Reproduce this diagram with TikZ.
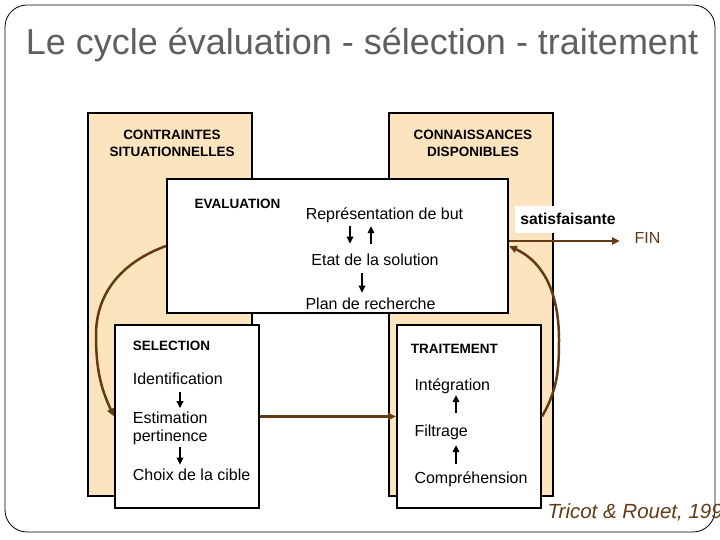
\documentclass[tikz,border=0pt]{standalone}
\usepackage{fontspec}
\setmainfont{Liberation Sans}
\usepackage{tikz}
\usetikzlibrary{arrows.meta,calc}

\definecolor{beige}{RGB}{251,228,190}
\definecolor{cyclebrown}{RGB}{99,58,22}
\definecolor{titlegray}{RGB}{95,95,95}

\begin{document}
\begin{tikzpicture}[x=1pt,y=1pt,
    panel/.style={draw, line width=2pt, fill=beige, inner sep=0pt,
        minimum width=164pt, minimum height=383pt},
    stage/.style={draw, line width=2pt, fill=white, inner sep=0pt},
    boxhead/.style={inner sep=0pt, font=\fontsize{13.5}{17.4}\selectfont\bfseries},
    boxitem/.style={inner sep=0pt, font=\fontsize{16}{18.4}\selectfont},
    arr/.style={line width=2pt, -{Triangle[length=7pt,width=6.5pt]}},
    flow/.style={cyclebrown, line width=2.5pt, -{Triangle[length=8pt,width=7pt]}}]
    %----------------------------------------
    % PAGE AND SLIDE FRAME
    %----------------------------------------
    \useasboundingbox (0,0) rectangle (720,540);
    \clip (0,0) rectangle (720,540);
    \draw[line width=0.8pt, rounded corners=22pt] (5,8) rectangle (715,535);

    \node[anchor=base, inner sep=0pt, text=titlegray, font=\fontsize{36}{40}\selectfont]
        (title) at (362,485) {Le cycle évaluation - sélection - traitement};

    %----------------------------------------
    % BACKGROUND COLUMNS
    %----------------------------------------
    \node[panel] (contr) at (170,235.5) {};
    \node[panel] (conn) at (471,235.5) {};
    \node[boxhead, align=center] (contrlbl) at (172,396.8) {CONTRAINTES\\SITUATIONNELLES};
    \node[boxhead, align=center] (connlbl) at (473,396.8) {CONNAISSANCES\\DISPONIBLES};

    %----------------------------------------
    % EVALUATION
    %----------------------------------------
    \node[stage, minimum width=341pt, minimum height=134pt] (eval) at (337.5,294) {};
    \node[boxhead, anchor=base] (evalhd) at (237.5,331) {EVALUATION};
    \node[boxitem, anchor=base] (rep) at (384.5,320.7) {Représentation de but};
    \node[boxitem, anchor=base] (etat) at (375,274) {Etat de la solution};
    \node[boxitem, anchor=base] (plan) at (370.5,230) {Plan de recherche};

    % way out of the cycle
    \node[fill=white, inner xsep=5pt, inner ysep=7.5pt, anchor=base,
        font=\fontsize{15.7}{18}\selectfont\bfseries] (satis) at (568,315) {satisfaisante};
    \node[inner sep=0pt, anchor=base, text=cyclebrown, font=\fontsize{16}{18}\selectfont]
        (fin) at (647.5,296.7) {FIN};

    %----------------------------------------
    % SELECTION and TRAITEMENT
    %----------------------------------------
    \node[stage, minimum width=144pt, minimum height=183pt] (sel) at (187,123.5) {};
    \node[boxhead, anchor=base west] (selhd) at (132.7,189.3) {SELECTION};
    \node[boxitem, anchor=base west] (ident) at (132.7,155) {Identification};
    \node[boxitem, anchor=west, align=left] (estim) at (132.7,111.6) {Estimation\\pertinence};
    \node[boxitem, anchor=base west] (choix) at (132.7,59.3) {Choix de la cible};

    \node[stage, minimum width=144pt, minimum height=183pt] (trait) at (469,123.5) {};
    \node[boxhead, anchor=base west] (traithd) at (410.7,186) {TRAITEMENT};
    \node[boxitem, anchor=base west] (integ) at (414.3,149) {Intégration};
    \node[boxitem, anchor=base west] (filtr) at (414.3,103.3) {Filtrage};
    \node[boxitem, anchor=base west] (compr) at (414.3,56.7) {Compréhension};

    %----------------------------------------
    % small arrows inside the boxes
    % FORMAT: from / to / x / gap at start / gap at end
    %----------------------------------------
    \foreach \src/\dst/\x/\gapa/\gapb in {
        rep/etat/350/3.3pt/10.5pt,
        etat/plan/362/7pt/5.5pt,
        ident/estim/180/6.7pt/3.3pt,
        estim/choix/180/1.6pt/4.2pt
    }{
       \draw[arr, shorten <=\gapa, shorten >=\gapb] (\src.south -| \x,0) -- (\dst.north -| \x,0);
    }
    \foreach \src/\dst/\x/\gapa/\gapb in {
        etat/rep/371/10.5pt/3.3pt,
        filtr/integ/456/12pt/0.6pt,
        compr/filtr/456/7.6pt/4.9pt
    }{
       \draw[arr, shorten <=\gapa, shorten >=\gapb] (\src.north -| \x,0) -- (\dst.south -| \x,0);
    }

    %----------------------------------------
    % THE CYCLE
    %----------------------------------------
    \coordinate (bendL) at (96,205);
    \coordinate (bendR) at (559,200);
    \draw[flow] (eval.west) to[out=200,in=90] (bendL) to[out=-90,in=115] (sel.west);
    \draw[flow] (sel.east) -- (trait.west);
    \draw[flow] (trait.east) to[out=60,in=-90] (bendR) to[out=90,in=-25] (eval.east);
    \draw[flow, shorten >=14.5pt] (eval.east) ++(0,5) coordinate (exit) -- (exit -| fin.west);

    \node[anchor=base west, inner sep=0pt, text=cyclebrown, font=\fontsize{20.5}{23}\selectfont\itshape]
        (source) at (547.5,21) {Tricot \& Rouet, 1998};

\end{tikzpicture}
\end{document}
